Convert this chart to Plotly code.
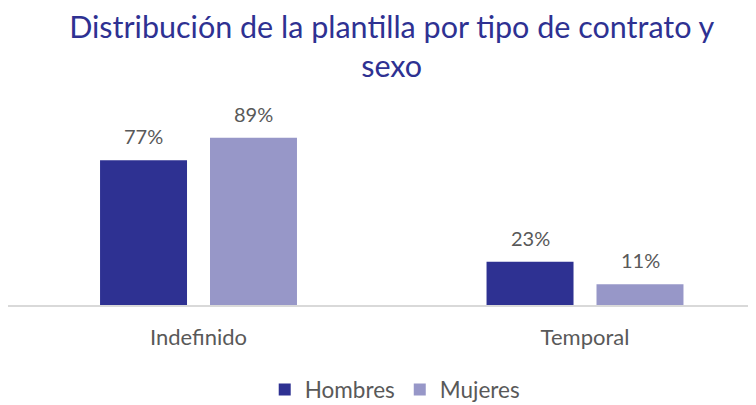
import plotly.graph_objects as go

categories = ["Indefinido", "Temporal"]
hombres = [77, 23]
mujeres = [89, 11]
series_names = ["Hombres", "Mujeres"]
colors = ["#2E3192", "#9797C8"]

fig = go.Figure()
for name, vals, col in zip(series_names, [hombres, mujeres], colors):
    fig.add_trace(go.Bar(
        x=categories, y=vals, name=name, marker_color=col,
        marker_line_width=0,
    ))

# value labels above bars (positions from data through the axes)
for vals, shift in zip([hombres, mujeres], [-55, 55]):
    for cat, v in zip(categories, vals):
        fig.add_annotation(
            x=cat, y=v, xref="x", yref="y", text=f"{v}%",
            showarrow=False, xshift=shift, yshift=24, yanchor="middle",
            font=dict(family="Lato", size=20, color="#595959"),
        )

fig.update_layout(
    width=748, height=397,
    margin=dict(l=0, r=0, t=108.6, b=100, autoexpand=False),
    paper_bgcolor="white", plot_bgcolor="white",
    barmode="group", bargap=0.431, bargroupgap=0.209,
    title=dict(
        text="Distribución de la plantilla por tipo de contrato y<br>sexo",
        x=0.513, xref="container", xanchor="center",
        y=0.925, yref="container", yanchor="middle",
        font=dict(family="Lato", size=30.5, color="#2E3192"),
    ),
    xaxis=dict(
        range=[-0.4929, 1.4424],
        showline=True, linecolor="#D9D9D9", linewidth=2,
        ticks="outside", ticklen=12, tickcolor="rgba(0,0,0,0)",
        tickfont=dict(family="Lato", size=22, color="#595959"),
        showgrid=False, zeroline=False,
    ),
    yaxis=dict(
        range=[0, 100], visible=False, showgrid=False, zeroline=False,
    ),
    showlegend=True,
    legend=dict(
        orientation="h", xref="container", x=0.517, xanchor="center",
        yref="paper", y=-0.451, yanchor="middle",
        font=dict(family="Lato", size=22.5, color="#595959"),
        itemwidth=30,
    ),
)

fig.write_html("out.html")
